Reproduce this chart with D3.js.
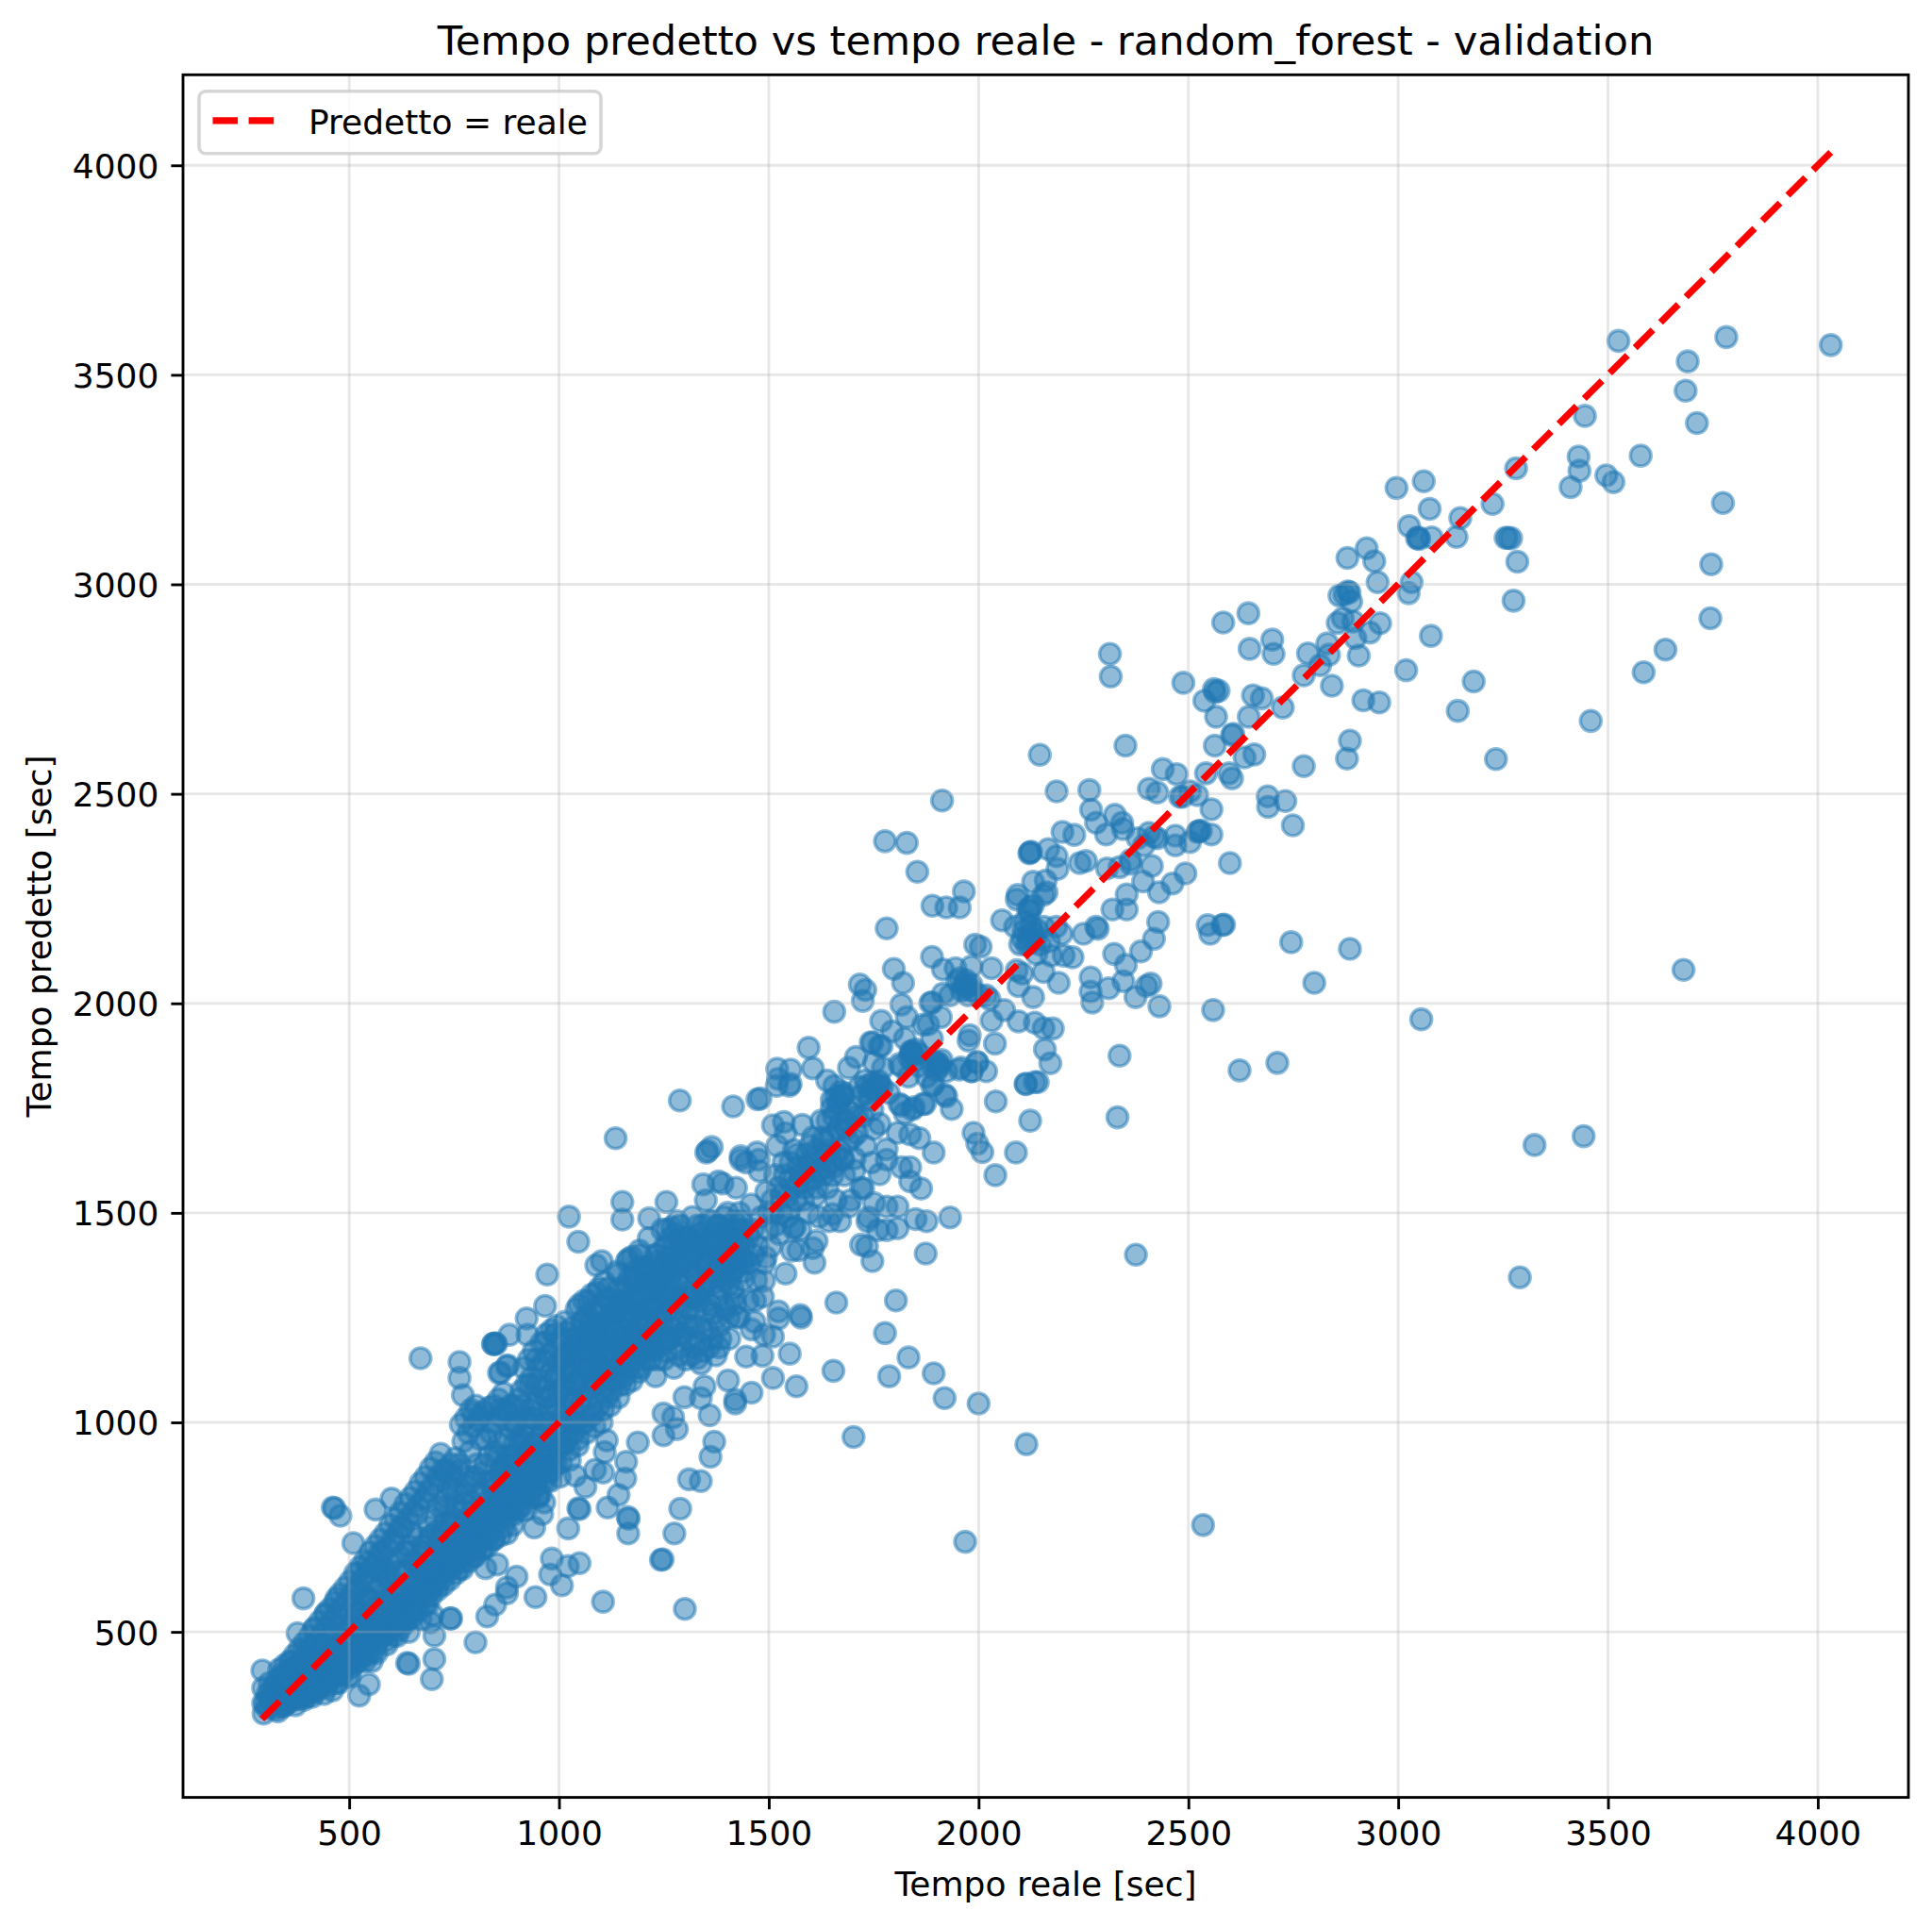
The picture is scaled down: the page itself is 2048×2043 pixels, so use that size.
<!DOCTYPE html>
<html>
<head>
<meta charset="utf-8">
<script src="https://cdn.jsdelivr.net/npm/d3@7"></script>
<style>
body { margin: 0; background: #fff; }
text { font-family: "DejaVu Sans"; fill: #000; }
</style>
</head>
<body>
<svg id="chart"></svg>
<script>
var tickValues = [500, 1000, 1500, 2000, 2500, 3000, 3500, 4000];
var lineaIdeale = [[292, 292], [4031, 4031]];

// punti isolati [reale, predetto]
var puntiAlti = [[3525,3581],[3782,3590],[4031,3571],[3690,3532],[3685,3462],[3712,3385],[3445,3402],[3281,3277],[3430,3305],[3432,3271],[3411,3232],[3496,3260],[3513,3244],[3578,3307],[3774,3194],[2996,3230],[3061,3246],[3075,3180],[3225,3192],[3148,3158],[3139,3113],[3026,3139],[3080,3112],[3045,3110],[3050,3108],[3048,3112],[3256,3111],[3269,3110],[3262,3111],[3284,3054],[3746,3048],[3275,2961],[3744,2919],[2925,3086],[2879,3063],[2943,3055],[2951,3005],[3032,3005],[3025,2979],[2880,2983],[2860,2973],[2872,2976],[2884,2981],[2888,2959],[2868,2919],[2856,2908],[2893,2911],[2957,2907],[2933,2885],[2898,2872],[3078,2877],[2831,2859],[2835,2832],[2785,2835],[2906,2830],[2814,2807],[2775,2783],[2842,2758],[3019,2795],[3180,2768],[3585,2790],[3637,2844],[2917,2723],[2955,2718],[2654,2735],[2675,2728],[2725,2706],[2644,2684],[3142,2698],[2607,2643],[2604,2640],[3459,2674],[2885,2627],[2878,2584],[3233,2583],[2657,2594],[2634,2587],[2775,2566],[2597,2549],[2604,2537],[2689,2494],[2731,2483],[2690,2469],[2749,2425],[2599,2335],[2585,2188],[2745,2146],[2885,2130],[3680,2080],[3055,1962],[3325,1662],[3442,1683],[3290,1346],[2535,755],[2375,1400],[1968,715]];
var puntiMedi = [[2643,2931],[2583,2909],[2700,2868],[2646,2846],[2703,2834],[2313,2834],[2315,2780],[2488,2765],[2561,2750],[2572,2746],[2564,2743],[2538,2722],[2566,2684],[2563,2615],[2146,2593],[2350,2615],[2439,2559],[2472,2547],[2406,2512],[2426,2503],[2480,2493],[2486,2493],[2504,2506],[2521,2497],[2542,2549],[2555,2463],[1913,2484],[2186,2506],[2264,2509],[2268,2462],[2325,2450],[2280,2431],[2342,2431],[2344,2416],[2200,2409],[2228,2402],[2304,2403],[2406,2407],[2418,2398],[2426,2394],[2379,2394],[2394,2377],[2469,2400],[2469,2377],[2504,2385],[2525,2411],[2522,2409],[2530,2412],[2555,2403],[1777,2387],[1829,2383],[1854,2314],[2123,2360],[2125,2362],[2121,2358],[2166,2368],[2186,2351],[2188,2321],[2241,2335],[2256,2340],[2306,2322],[2336,2325],[2362,2342],[2362,2333],[2413,2328],[2392,2291],[2353,2260],[2430,2265],[2462,2286],[2493,2310],[2130,2290],[2160,2293],[2162,2265],[2155,2259],[2093,2259],[2091,2248],[2125,2230],[2130,2235],[2122,2220],[2118,2225],[1965,2267],[1890,2233],[1923,2229],[1955,2229],[1781,2179],[2056,2198],[2319,2224],[2353,2224],[2428,2194],[2418,2154],[2387,2124],[2323,2118],[2351,2092],[2267,2062],[2345,2053],[2267,2028],[2271,2002],[2310,2036],[2374,2015],[2400,2041],[2410,2047],[2431,1993],[2546,2187],[2581,2187],[2552,2166],[2800,2049],[2559,1984],[2087,2183],[2108,2174],[2130,2166],[2155,2183],[2185,2183],[2198,2166],[2099,2141],[2121,2144],[2147,2140],[2168,2148],[2138,2118],[2173,2114],[2203,2114],[2224,2110],[2250,2166],[2280,2183],[2284,2178],[1992,2140],[2005,2135],[1889,2111],[1798,2082],[1820,2049],[1717,2045],[1730,2032],[1724,2006],[1656,1980],[1915,2081],[1945,2084],[1983,2088],[2031,2084],[2091,2079],[2104,2071],[1949,2053],[1966,2036],[1983,2045],[2001,2019],[2018,2019],[2026,2010],[1975,2019],[1915,2023],[1889,2002],[1932,2019],[2155,2075],[2191,2049],[2130,2015],[2095,2041],[2061,1984],[2095,1957],[2031,1959],[2134,1954],[2155,1941],[2177,1940],[1979,1924],[1976,1911],[2039,1904],[2158,1890],[2171,1857],[2141,1812],[2112,1808],[2041,1766],[2123,1720],[2336,1875],[2622,1840],[2712,1858],[2331,1728],[1910,1967],[1880,1950],[1829,1967],[1768,1958],[1794,1933],[1743,1907],[1764,1898],[1824,1916],[1889,1916],[1841,1881],[1811,1855],[1906,1855],[1923,1838],[1958,1847],[1996,1860],[2018,1838],[1983,1838],[1595,1894],[1605,1845],[1708,1872],[1691,1846],[1751,1859],[1772,1846],[1639,1816],[1656,1803],[1674,1778],[1734,1803],[1760,1803],[1786,1786],[1811,1760],[1846,1752],[1872,1760],[1889,1803],[1923,1778],[1936,1748],[1552,1842],[1552,1808],[1549,1803],[1480,1773],[1536,1717],[1510,1709],[1988,1691],[1997,1665],[2009,1645],[2089,1644],[2040,1590],[2113,1807],[2134,1812],[1837,1687],[1859,1678],[1893,1644],[1874,1403],[1932,1489],[1876,1480],[1850,1485],[1807,1691],[1781,1652],[1764,1713],[1747,1747],[1824,1738],[1730,1816],[1764,1807],[1816,1756],[1842,1747],[1868,1760],[1919,1782],[1893,1807],[1876,1825],[1833,1825],[1859,1850],[1902,1859],[1842,1885],[1816,1850],[1747,1906],[1769,1898],[1868,1949],[1816,1997],[1885,2001],[1954,1842],[1984,1838],[1997,1859]];
var puntiSotto = [[1135,1678],[1288,1768],[1415,1754],[1473,1771],[1520,1844],[1522,1820],[1519,1803],[1344,1568],[1380,1575],[1364,1657],[1355,1648],[1351,1644],[1433,1635],[1433,1627],[1472,1644],[1476,1627],[1151,1526],[1151,1484],[1256,1526],[1024,1491],[1046,1431],[1089,1375],[1102,1385],[1215,1487],[972,1353],[1142,1354],[967,1278],[923,1248],[882,1209],[925,1209],[843,1187],[848,1189],[861,1119],[878,1136],[1661,1286],[1803,1291],[1777,1213],[1833,1155],[1893,1117],[1787,1110],[1654,1123],[1919,1058],[2000,1045],[1702,965],[2114,948],[1550,1164],[1510,1106],[1566,1086],[1459,1071],[1420,1045],[1420,1054],[1575,1256],[1577,1250],[1523,1265],[1523,1248],[1540,1355],[1609,1381],[1605,1416],[1571,1411],[1614,1433],[1558,1463],[1562,1466],[1747,1385],[1734,1420],[1720,1424],[1807,1463],[1781,1459],[1760,1459],[1738,1489],[1670,1480],[1644,1480],[1807,1515],[1781,1515],[1751,1523],[1691,1515],[1652,1497],[1863,1558],[1837,1575],[1837,1609],[1816,1609],[1781,1627],[1764,1592],[1725,1558],[1704,1601],[1678,1627],[670,1153],[763,1144],[763,1106],[771,1065],[844,1187],[850,1187],[857,1118],[876,1134],[797,1021],[461,797],[465,795],[479,777],[563,792],[601,818],[510,712],[391,580],[377,497],[293,408],[295,366],[295,330],[524,348],[547,375],[638,426],[642,424],[703,435],[697,387],[801,475],[829,537],[848,565],[876,592],[876,606],[899,632],[944,583],[979,637],[983,675],[1007,611],[1021,657],[1049,664],[1105,572],[1300,555],[1243,672],[1247,673],[1275,735],[1289,794],[1022,747],[1049,793],[1046,795],[1116,797],[1164,774],[1166,770],[1165,735],[1142,827],[1160,906],[1158,866],[1109,929],[1105,880],[1188,952],[1249,969],[1249,1021],[1272,1012],[1281,984],[1359,1017],[1370,954],[1361,918],[1310,864],[1338,860],[1299,1060],[1347,1086],[1338,1058],[1403,1100],[699,541],[694,523],[703,491],[741,532],[743,532],[941,749],[965,809],[960,781],[955,827],[904,790],[876,735],[825,652],[853,661],[1039,873],[1063,846],[1086,887],[1114,957],[1446,1157],[1485,1159],[1510,1205],[1489,1209],[1459,1222],[1424,1252],[1381,1179],[1330,1153],[1420,1282],[1467,1291],[1489,1338],[1441,1360],[1493,1394]];

// fascia densa lungo la diagonale, stimata a tratti
var coda300 = [[296,305],[300,330],[305,352],[310,322],[318,345],[322,372],[326,316],[330,338],[336,360],[340,392],[344,322],[348,346],[352,372],[356,404],[360,334],[364,355],[368,385],[372,325],[376,345],[380,420],[384,365],[388,392],[392,338],[396,354],[400,372],[404,440],[408,404],[412,345],[416,385],[420,362],[424,420],[428,460],[432,398],[436,375],[440,352],[444,442],[448,415],[452,385],[456,490],[460,360],[464,462],[468,432],[472,405],[476,378],[480,520],[484,450],[488,480],[492,418],[496,392],[500,540],[310,378],[333,410],[362,428],[390,456],[415,505],[445,545],[470,580]];
var coda500 = [[505,430],[508,470],[510,510],[512,560],[515,600],[518,450],[522,640],[526,490],[530,530],[534,575],[538,430],[542,620],[546,665],[550,470],[554,510],[558,555],[562,600],[566,450],[570,645],[574,690],[578,490],[582,530],[586,575],[590,470],[594,620],[598,665],[602,510],[606,710],[610,555],[614,490],[618,600],[622,750],[626,645],[630,525],[634,690],[638,570],[642,500],[646,615],[650,735],[654,550],[658,660],[662,780],[666,590],[670,530],[674,705],[678,635],[682,820],[686,565],[690,750],[694,680],[698,610],[520,545],[545,580],[565,520],[585,640],[605,590],[625,560],[645,690],[665,640],[685,610],[695,730]];
var coda700 = [[700,620],[704,680],[708,740],[712,800],[716,860],[720,640],[724,700],[728,760],[732,820],[736,650],[740,880],[744,710],[748,770],[752,660],[756,830],[760,730],[764,900],[768,680],[772,790],[776,850],[780,710],[784,750],[788,930],[792,810],[796,680],[800,870],[804,730],[808,770],[812,960],[816,830],[820,700],[824,900],[828,750],[832,800],[836,1000],[840,860],[844,720],[848,930],[852,780],[856,830],[860,1030],[864,890],[868,750],[872,960],[876,810],[880,860],[884,1040],[888,920],[892,780],[896,990],[900,840],[706,650],[715,720],[725,790],[735,680],[745,840],[755,760],[765,700],[775,810],[785,870],[795,740],[805,900],[815,790],[825,720],[835,860],[845,780],[855,920],[865,820],[875,900],[885,800],[895,950]];
var coda900 = [[902,800],[906,880],[910,960],[914,1040],[918,830],[922,910],[926,1000],[930,1090],[934,860],[938,950],[942,1040],[946,1150],[950,820],[954,900],[958,990],[962,1080],[966,1190],[970,860],[974,940],[978,1030],[982,1120],[986,900],[990,1210],[994,980],[998,1070],[1002,870],[1006,1160],[1010,950],[1014,1240],[1018,1030],[1022,1120],[1026,910],[1030,1200],[1034,1000],[1038,1090],[1042,1270],[1046,960],[1050,1170],[1054,1050],[1058,1240],[1062,1000],[1066,1130],[1070,1290],[1074,1080],[1078,1200],[1082,1020],[1086,1150],[1090,1310],[1094,1090],[1098,1240],[908,840],[920,950],[932,1030],[944,900],[956,1100],[968,1000],[980,920],[992,1110],[1004,1010],[1016,1160],[1028,1060],[1040,1150],[1052,1110],[1064,1210],[1076,1140],[1088,1220],[1100,1130],[1096,1180]];
var coda1100 = [[1102,1000],[1106,1070],[1110,1150],[1114,1230],[1118,1320],[1122,1040],[1126,1110],[1130,1190],[1134,1280],[1138,1360],[1142,1060],[1146,1140],[1150,1220],[1154,1310],[1158,1090],[1162,1170],[1166,1390],[1170,1250],[1174,1100],[1178,1340],[1182,1180],[1186,1270],[1190,1120],[1194,1400],[1198,1210],[1202,1300],[1206,1150],[1210,1240],[1214,1440],[1218,1350],[1222,1180],[1226,1270],[1230,1110],[1234,1400],[1238,1220],[1242,1310],[1246,1460],[1250,1150],[1254,1260],[1258,1360],[1262,1200],[1266,1440],[1270,1300],[1274,1130],[1278,1240],[1282,1480],[1286,1380],[1290,1180],[1294,1280],[1298,1430],[1112,1100],[1124,1280],[1136,1210],[1148,1170],[1160,1270],[1172,1200],[1184,1330],[1196,1260],[1208,1370],[1220,1310],[1232,1260],[1244,1370],[1256,1300],[1268,1380],[1280,1320],[1292,1390]];
var coda1300 = [[1302,1150],[1306,1230],[1310,1310],[1314,1400],[1318,1490],[1322,1180],[1326,1270],[1330,1350],[1334,1440],[1338,1140],[1342,1220],[1346,1310],[1350,1530],[1354,1400],[1358,1180],[1362,1280],[1366,1480],[1370,1360],[1374,1160],[1378,1440],[1382,1230],[1386,1320],[1390,1570],[1394,1400],[1398,1270],[1402,1500],[1406,1200],[1410,1350],[1414,1440],[1418,1300],[1422,1560],[1426,1390],[1430,1250],[1434,1480],[1438,1340],[1442,1420],[1446,1620],[1450,1290],[1454,1380],[1458,1520],[1462,1460],[1466,1240],[1470,1340],[1474,1420],[1478,1600],[1482,1490],[1486,1300],[1490,1380],[1494,1550],[1498,1460],[1308,1270],[1320,1360],[1332,1300],[1344,1420],[1356,1340],[1368,1260],[1380,1400],[1392,1340],[1404,1440],[1416,1380],[1428,1460],[1440,1390],[1452,1440],[1464,1400]];
var coda1500 = [[1505,1420],[1510,1500],[1515,1590],[1520,1660],[1525,1450],[1530,1540],[1535,1620],[1540,1690],[1545,1490],[1550,1580],[1555,1410],[1560,1650],[1565,1530],[1570,1610],[1575,1460],[1580,1710],[1585,1560],[1590,1640],[1595,1500],[1600,1600],[1605,1680],[1610,1540],[1615,1650],[1620,1490],[1625,1720],[1630,1590],[1635,1640],[1640,1560],[1645,1680],[1650,1750],[1655,1610],[1660,1530],[1665,1700],[1670,1650],[1675,1780],[1680,1590],[1685,1720],[1690,1670],[1695,1530],[1700,1750],[1705,1630],[1710,1690],[1715,1800],[1720,1560],[1725,1730],[1730,1660],[1735,1480],[1740,1770],[1745,1620],[1750,1700]];

// nucleo quasi pieno della nuvola
var densa400 = [[304,318],[308,345],[314,336],[316,362],[320,330],[324,356],[328,385],[332,322],[335,348],[338,372],[342,340],[346,395],[350,330],[354,358],[358,382],[362,345],[366,410],[370,352],[374,375],[378,340],[382,402],[386,362],[390,425],[394,380],[398,345],[402,410],[406,365],[410,435],[414,390],[418,355],[422,445],[426,405],[430,372],[434,430],[438,395],[442,470],[446,368],[450,415],[454,445],[458,390],[462,500],[466,420],[470,378],[474,460],[478,435],[482,400],[486,510],[490,445],[494,420],[498,480],[502,395],[506,520],[510,450],[514,425],[518,495],[522,550],[526,440],[530,475],[534,510],[538,585],[542,455],[546,530],[550,495],[554,430],[558,575],[562,520]];
var densa600 = [[566,515],[570,555],[574,610],[578,515],[582,650],[586,540],[590,595],[594,500],[598,630],[602,565],[606,530],[610,645],[614,590],[618,520],[622,680],[626,610],[630,565],[634,640],[638,530],[642,705],[646,590],[650,555],[654,670],[658,620],[662,580],[666,725],[670,650],[674,590],[678,690],[682,615],[686,640],[690,720],[694,600],[698,670],[702,640],[706,770],[710,610],[714,700],[718,660],[722,740],[726,630],[730,800],[734,690],[738,650],[742,760],[746,720],[750,670],[754,800],[758,690],[762,650],[766,750],[770,720],[774,670],[778,830],[782,770],[786,690],[790,730],[794,860],[798,790],[802,700],[806,750],[810,830],[814,720],[818,880],[822,770],[826,810],[830,730],[834,920],[838,790],[842,840]];
var densa850 = [[846,860],[850,760],[854,810],[858,950],[862,790],[866,870],[870,830],[874,770],[878,920],[882,830],[886,790],[890,880],[894,1000],[898,820],[902,920],[906,860],[910,800],[914,970],[918,890],[922,840],[926,930],[930,820],[934,1010],[938,880],[942,950],[946,850],[950,1040],[954,930],[958,880],[962,980],[966,910],[970,1060],[974,880],[978,960],[982,1000],[986,950],[990,1100],[994,900],[998,1020],[1002,950],[1006,1080],[1010,1000],[1014,1130],[1018,960],[1022,1060],[1026,1000],[1030,1120],[1034,1050],[1038,1180],[1042,1000],[1046,1100],[1050,1040],[1054,1150],[1058,1090],[1062,1220],[1066,1060],[1070,1170],[1074,1130],[1078,1040],[1082,1210],[1086,1090],[1090,1180],[1094,1140],[1098,1260],[848,820],[860,880],[872,900],[884,870],[896,900],[908,950],[920,1010],[932,930],[944,1010],[956,960],[968,1060],[980,1060],[992,1040],[1004,1110],[1016,1090],[1028,1160],[1040,1090],[1052,1200],[1064,1170],[1076,1240],[1088,1120]];
var densa1100 = [[1102,1180],[1106,1130],[1110,1210],[1114,1090],[1118,1170],[1122,1250],[1126,1190],[1130,1130],[1134,1220],[1138,1160],[1142,1290],[1146,1200],[1150,1120],[1154,1250],[1158,1180],[1162,1330],[1166,1220],[1170,1150],[1174,1280],[1178,1210],[1182,1130],[1186,1350],[1190,1230],[1194,1170],[1198,1300],[1202,1240],[1206,1370],[1210,1190],[1214,1270],[1218,1150],[1222,1330],[1226,1220],[1230,1400],[1234,1280],[1238,1180],[1242,1350],[1246,1240],[1250,1310],[1254,1200],[1258,1420],[1262,1300],[1266,1230],[1270,1360],[1274,1270],[1278,1450],[1282,1330],[1286,1210],[1290,1290],[1294,1410],[1298,1340],[1302,1260],[1306,1440],[1310,1370],[1314,1300],[1318,1230],[1322,1410],[1326,1350],[1330,1470],[1334,1290],[1338,1380],[1342,1320],[1346,1440],[1350,1370],[1354,1270],[1358,1480],[1362,1400],[1366,1330],[1370,1450],[1374,1380],[1378,1300],[1382,1470],[1386,1410],[1390,1350],[1394,1490],[1398,1440],[1402,1380],[1406,1330],[1410,1460],[1414,1400],[1418,1480],[1422,1370],[1426,1440],[1430,1500],[1434,1390],[1438,1460],[1108,1160],[1120,1130],[1132,1260],[1144,1230],[1156,1150],[1168,1300],[1180,1260],[1192,1200],[1204,1330],[1216,1280],[1228,1340],[1240,1250],[1252,1380],[1264,1340],[1276,1310],[1288,1420],[1300,1390],[1312,1430],[1324,1300],[1336,1450],[1348,1330],[1360,1430],[1372,1420],[1384,1370],[1396,1360],[1408,1410]];
var densa1500 = [[1500,1500],[1508,1530],[1515,1470],[1522,1560],[1530,1500],[1538,1590],[1545,1540],[1552,1620],[1560,1560],[1568,1640],[1575,1590],[1582,1530],[1590,1610],[1598,1660],[1605,1580],[1612,1630],[1620,1600],[1628,1680],[1636,1610],[1644,1650],[1652,1590],[1660,1640],[1668,1700],[1676,1630],[1684,1700],[1692,1740],[1700,1680],[1710,1730],[1720,1780],[1655,1730],[1665,1760],[1675,1720],[1640,1720],[1630,1670],[1590,1580],[1570,1570],[1550,1510],[1600,1620],[1615,1560],[1650,1620]];
var gruppi = [[1838,1885],[1845,1875],[1850,1890],[1835,1870],[1842,1862],[1855,1880],[1895,1860],[1905,1848],[1900,1840],[1912,1865],[1890,1850],[1748,1810],[1755,1795],[1762,1815],[1745,1795],[1770,1800],[1738,1785],[1660,1775],[1668,1765],[1680,1785],[1650,1770],[1672,1790],[1965,2045],[1955,2060],[1975,2040],[1970,2055],[1985,2030],[1960,2030],[2130,2170],[2125,2185],[2120,2160],[2135,2150],[2110,2195],[2105,2155],[2140,2175],[2115,2140]];
var sopraLinea = [[340,400],[346,420],[352,390],[358,430],[364,410],[370,445],[376,420],[382,460],[388,430],[394,475],[400,450],[406,490],[412,465],[418,510],[424,480],[430,525],[436,495],[442,540],[448,510],[454,555],[460,525],[466,570],[472,540],[478,590],[484,560],[490,605],[496,575],[502,620],[508,590],[514,640],[520,610],[526,655],[532,625],[538,670],[544,640],[550,690],[556,655],[562,705],[568,670],[574,720],[580,690],[586,735],[592,700],[598,755],[604,720],[610,770],[616,735],[622,785],[628,750],[634,805],[640,770],[646,820],[652,785],[658,835],[664,800],[670,855],[676,815],[682,870],[688,835],[694,890],[700,850],[706,905],[712,870],[718,925],[724,885],[730,885],[736,850],[742,900],[748,870],[754,915],[760,885],[766,995],[772,955],[778,1010],[784,975],[790,1030],[796,990],[802,1040],[808,1005],[814,1015],[820,1025],[826,960],[832,1035],[838,975],[844,1040],[850,1000],[856,1055],[862,1015],[868,1070],[874,1030],[880,1025],[886,985],[892,1040],[898,1000],[904,1055],[910,1075],[916,1130],[922,1090],[928,1150],[934,1105],[940,1170],[946,1090],[952,1130],[958,1190],[964,1145],[970,1210],[976,1160],[982,1220],[988,1170],[994,1230],[1000,1145],[1006,1200],[1012,1155],[1018,1215],[1024,1170],[1030,1225],[1036,1185],[1042,1200],[1048,1280],[1054,1240],[1060,1290],[1066,1255],[1072,1215],[1078,1305],[1084,1265],[1090,1235],[1096,1320],[1102,1280],[1108,1335],[1114,1295],[1120,1295],[1126,1260],[1132,1215],[1138,1270],[1144,1320],[1150,1285],[1156,1285],[1162,1385],[1168,1345],[1174,1395],[1180,1360],[1186,1305],[1192,1410],[1198,1370],[1204,1360],[1210,1325],[1216,1270],[1222,1375],[1228,1335],[1234,1385],[1240,1350],[1246,1355],[1252,1420],[1258,1460],[1264,1395],[1270,1465],[1276,1430],[1282,1370],[1288,1470],[1294,1440],[1306,1440],[1318,1400],[1330,1430],[1342,1470],[1354,1380],[1366,1420],[1378,1470],[1390,1400],[1402,1450],[1414,1360],[1426,1430],[1438,1380],[1450,1450]];
var sottoLinea = [[330,310],[345,325],[360,340],[375,352],[385,345],[395,372],[405,355],[415,380],[425,368],[435,392],[445,375],[455,405],[465,395],[475,420],[485,405],[495,430],[505,415],[515,445],[525,430],[535,465],[545,445],[555,480],[565,470],[575,505],[585,495],[595,525],[605,510],[615,545],[625,530],[635,565],[645,550],[655,590],[665,575],[675,610],[685,590],[695,635],[705,615],[715,650],[725,640],[735,675],[745,655],[755,700],[765,680],[775,725],[785,705],[795,745],[805,725],[815,765],[825,745],[835,780],[845,760],[855,795],[865,775],[875,810],[885,795],[895,830],[905,815],[915,855],[925,830],[935,875],[945,850],[955,895],[965,865],[975,915],[985,885],[995,935],[1005,905],[1015,950],[1025,935],[1035,975],[1045,945],[1055,995],[1065,975],[1075,1015],[1085,990],[1095,1040],[1105,1030],[1115,1060],[1125,1075],[1135,1100],[1145,1090],[1155,1110],[1165,1130],[1175,1150],[1185,1150],[1195,1130],[1205,1170],[1215,1200],[1225,1170],[1235,1150],[1245,1200],[1255,1170],[1265,1200],[1275,1220],[1285,1160],[1295,1210],[1305,1200],[1315,1160],[1325,1230],[1335,1190],[1345,1170],[1355,1220],[1365,1200],[1375,1250],[1385,1200],[1395,1280],[1405,1250],[1415,1320],[560,455],[590,480],[620,505],[650,535],[680,565],[710,600],[740,625],[770,650],[800,680],[830,705],[860,730],[890,755],[920,790],[950,825],[980,860],[575,490],[605,492],[635,522],[665,550],[695,585],[725,612],[755,640],[785,668],[815,695],[845,722]];

var punti = [].concat(coda300, coda500, coda700, coda900, coda1100, coda1300, coda1500, densa400, densa600, densa850, densa1100, densa1500, gruppi, sopraLinea, sottoLinea, puntiSotto, puntiMedi, puntiAlti);

var WIDTH = 2048, HEIGHT = 2043, PT = 3.6;
var margin = {top: 79.3, right: 25, bottom: 137.4, left: 194};
var innerW = WIDTH - margin.left - margin.right,
	innerH = HEIGHT - margin.top - margin.bottom;

var svg = d3.select("#chart").attr("width", WIDTH).attr("height", HEIGHT);
var g = svg.append("g").attr("transform", "translate(" + margin.left + "," + margin.top + ")");

var x = d3.scaleLinear().domain([104, 4216]).range([0, innerW]);
var y = d3.scaleLinear().domain([105, 4216]).range([innerH, 0]);

// punti sotto la griglia, come in matplotlib
g.append("g").selectAll("circle")
	.data(punti)
	.join("circle")
	.attr("cx", function(d) { return x(d[0]); })
	.attr("cy", function(d) { return y(d[1]); })
	.attr("r", 11)
	.style("fill", "#1f77b4")
	.style("fill-opacity", 0.5)
	.style("stroke", "#1f77b4")
	.style("stroke-opacity", 0.5)
	.style("stroke-width", PT);

var xAxis = d3.axisBottom(x).tickValues(tickValues).tickSize(12.6).tickPadding(12).tickFormat(d3.format("d"));
var yAxis = d3.axisLeft(y).tickValues(tickValues).tickSize(12.6).tickPadding(13).tickFormat(d3.format("d"));

var xG = g.append("g").attr("transform", "translate(0," + innerH + ")").call(xAxis);
var yG = g.append("g").call(yAxis);
[xG, yG].forEach(function(a) {
	a.select(".domain").remove();
	a.selectAll(".tick line").style("stroke", "#000").style("stroke-width", 0.8 * PT);
	a.selectAll(".tick text").style("font-size", "36px");
});
yG.selectAll(".tick text").attr("dy", "0.36em");

// griglia
g.append("g").selectAll("line")
	.data(tickValues)
	.join("line")
	.attr("x1", function(d) { return x(d); })
	.attr("x2", function(d) { return x(d); })
	.attr("y1", 0)
	.attr("y2", innerH)
	.style("stroke", "#b0b0b0").style("stroke-opacity", 0.3).style("stroke-width", 0.8 * PT);
g.append("g").selectAll("line")
	.data(tickValues)
	.join("line")
	.attr("x1", 0)
	.attr("x2", innerW)
	.attr("y1", function(d) { return y(d); })
	.attr("y2", function(d) { return y(d); })
	.style("stroke", "#b0b0b0").style("stroke-opacity", 0.3).style("stroke-width", 0.8 * PT);

var line = d3.line()
	.x(function(d) { return x(d[0]); })
	.y(function(d) { return y(d[1]); });

g.append("path")
	.datum(lineaIdeale)
	.attr("d", line)
	.style("fill", "none")
	.style("stroke", "#ff0000")
	.style("stroke-width", 2 * PT)
	.style("stroke-dasharray", "26.6,11.5");

g.append("rect")
	.attr("width", innerW)
	.attr("height", innerH)
	.style("fill", "none")
	.style("stroke", "#000")
	.style("stroke-width", 0.8 * PT);

// legenda
var legend = g.append("g").attr("transform", "translate(17,17.5)");
legend.append("rect")
	.attr("width", 426)
	.attr("height", 66)
	.attr("rx", 7)
	.style("fill", "#fff")
	.style("fill-opacity", 0.8)
	.style("stroke", "#ccc")
	.style("stroke-opacity", 0.8)
	.style("stroke-width", PT);
legend.append("line")
	.attr("x1", 14.5)
	.attr("x2", 80)
	.attr("y1", 31)
	.attr("y2", 31)
	.style("stroke", "#ff0000")
	.style("stroke-width", 2 * PT)
	.style("stroke-dasharray", "26.6,11.5");
legend.append("text")
	.attr("x", 116)
	.attr("y", 45)
	.style("font-size", "36px")
	.text("Predetto = reale");

svg.append("text")
	.attr("x", margin.left + innerW / 2)
	.attr("y", 58)
	.attr("text-anchor", "middle")
	.style("font-size", "43.2px")
	.text("Tempo predetto vs tempo reale - random_forest - validation");
svg.append("text")
	.attr("x", margin.left + innerW / 2)
	.attr("y", 2010)
	.attr("text-anchor", "middle")
	.style("font-size", "36px")
	.text("Tempo reale [sec]");
svg.append("text")
	.attr("transform", "translate(54," + (margin.top + innerH / 2) + ") rotate(-90)")
	.attr("text-anchor", "middle")
	.style("font-size", "36px")
	.text("Tempo predetto [sec]");
</script>
</body>
</html>
